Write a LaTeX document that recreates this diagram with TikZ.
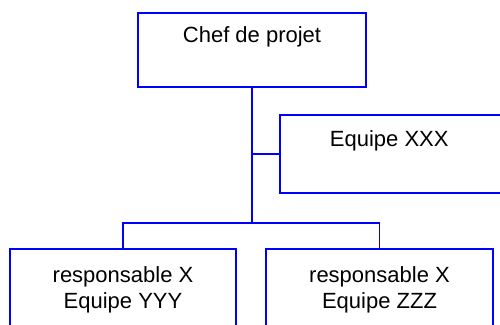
\documentclass[tikz,border=0pt]{standalone}
\usepackage{fontspec}
\setmainfont{Liberation Sans}
\usetikzlibrary{calc}
\begin{document}
\begin{tikzpicture}[x=1pt,y=-1pt,
  orgbox/.style={draw=blue, line width=1.5pt, fill=white, inner sep=0pt},
  link/.style={draw=blue, line width=1.5pt},
  lbl/.style={inner sep=0pt, font=\fontsize{22}{26}\selectfont, align=center}]
  \useasboundingbox (0,0) rectangle (500,324);
  \clip (0,0) rectangle (500,324);
  % boxes
  \node[orgbox, minimum width=228pt, minimum height=74pt] (chef) at (252,50) {};
  \node[orgbox, minimum width=240pt, minimum height=78pt] (xxx) at (400,154) {};
  \node[orgbox, minimum width=226pt, minimum height=100pt] (yyy) at (123,299) {};
  \node[orgbox, minimum width=227pt, minimum height=100pt] (zzz) at (379.5,299) {};
  % labels
  \node[lbl, anchor=base] (chefT) at ($(chef.north)+(0,30)$) {Chef de projet};
  \node[lbl, anchor=base] (xxxT) at ($(xxx.north west)+(110,32)$) {Equipe XXX};
  \node[lbl, anchor=north] (yyyT) at ($(yyy.north)+(0,18)$) {responsable X\\Equipe YYY};
  \node[lbl, anchor=north] (zzzT) at ($(zzz.north)+(0,18)$) {responsable X\\Equipe ZZZ};
  % connectors
  \coordinate (bus) at ($(chef.south)+(0,135)$);
  \draw[link] (chef.south) -- (bus);
  \draw[link] (chef.south |- xxx.west) -- (xxx.west);
  \draw[link] (yyy.north) |- (bus) -| (zzz.north);
\end{tikzpicture}
\end{document}
